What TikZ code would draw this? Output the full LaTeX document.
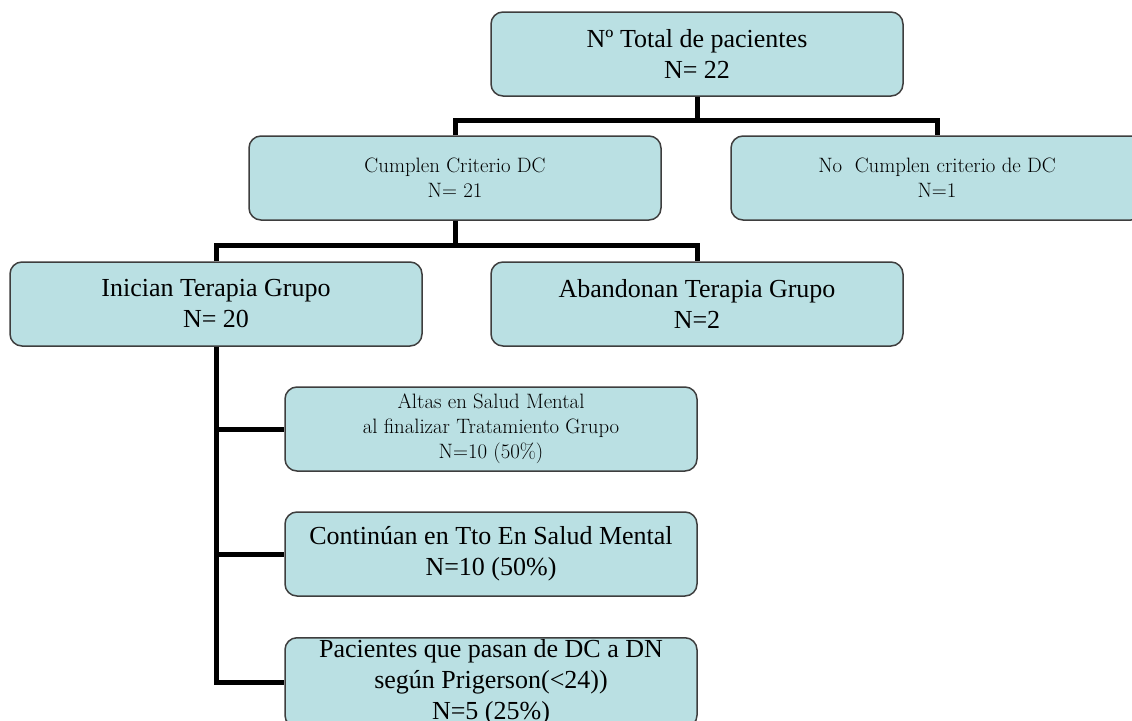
\documentclass[tikz,border=0pt]{standalone}
\usepackage{fontspec}
\newfontfamily\timesfont{Liberation Serif}
\definecolor{cajafondo}{RGB}{186,224,227}
\definecolor{cajaborde}{RGB}{62,62,62}

\begin{document}
\begin{tikzpicture}[x=1pt,y=-1pt,
    caja/.style={draw=cajaborde,line width=1.5pt,fill=cajafondo,rounded corners=12pt,
        minimum width=\cajaancho pt,minimum height=\cajaalto pt,align=center,inner sep=2pt},
    linea/.style={line width=5pt}]
    \pgfmathsetmacro{\cajaancho}{412}
    \pgfmathsetmacro{\cajaalto}{84}
    \providecommand{\textogrande}{\timesfont\fontsize{26}{31}\selectfont}
    \providecommand{\textochico}{\fontsize{20.8}{25}\selectfont}
    \useasboundingbox (0,0) rectangle (1132,720);
    \clip (0,0) rectangle (1132,720);
    % niveles
    \node[caja,font=\textogrande] (total) at (697,54) {Nº Total de pacientes\\N= 22};
    \node[caja,font=\textochico] (cumplen) at (455,178) {Cumplen Criterio DC\\N= 21};
    \node[caja,font=\textochico] (nocumplen) at (937,178) {No\ \ Cumplen criterio de DC\\N=1};
    \node[caja,font=\textogrande] (inician) at (216,304) {Inician Terapia Grupo\\N= 20};
    \node[caja,font=\textogrande] (abandonan) at (697,304) {Abandonan Terapia Grupo\\N=2};
    \node[caja,font=\textochico] (altas) at (491,429)
        {Altas en Salud Mental\\al finalizar Tratamiento Grupo\\N=10 (50\%)};
    \node[caja,font=\textogrande] (continuan) at (491,554) {Continúan en Tto En Salud Mental\\N=10 (50\%)};
    \node[caja,font=\textogrande,anchor=north,minimum height=0pt] (prigerson) at (491,637)
        {Pacientes que pasan de DC a DN\\según Prigerson(<24))\\N=5 (25\%)};
    % ramas
    \coordinate (ramaA) at (697,120);
    \coordinate (ramaB) at (455,245);
    \draw[linea] (total.south) -- (ramaA);
    \draw[linea] (cumplen.north) |- (ramaA) -| (nocumplen.north);
    \draw[linea] (cumplen.south) -- (ramaB);
    \draw[linea] (inician.north) |- (ramaB) -| (abandonan.north);
    \draw[linea] (inician.south) |- (prigerson.west);
    \draw[linea] (inician.south |- altas.west) -- (altas.west);
    \draw[linea] (inician.south |- continuan.west) -- (continuan.west);
\end{tikzpicture}
\end{document}
